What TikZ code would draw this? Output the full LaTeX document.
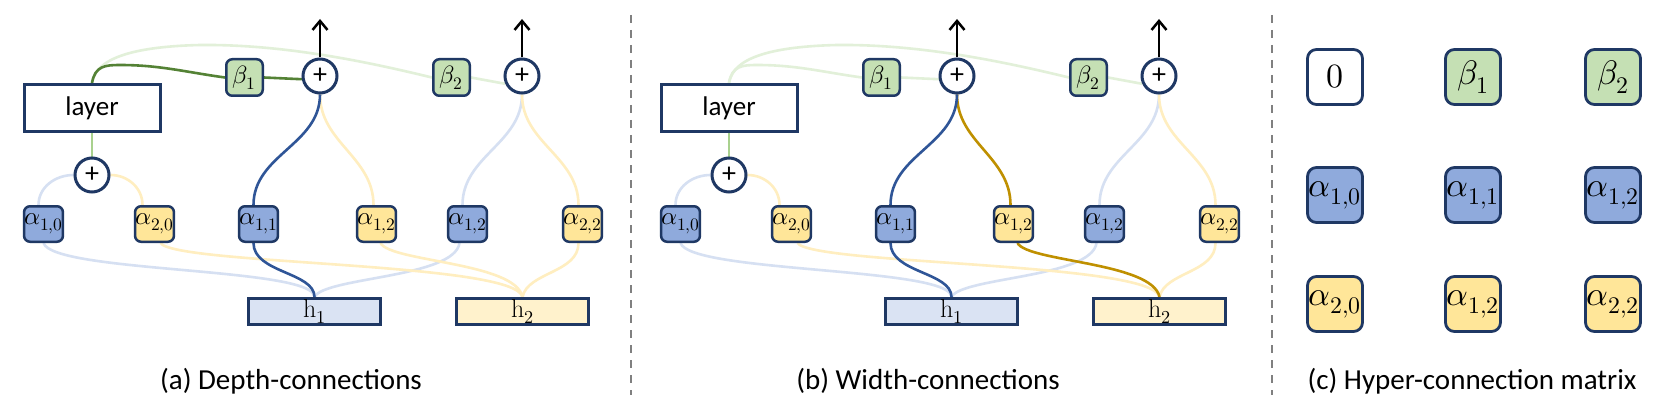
\documentclass[tikz,border=0pt]{standalone}
\usepackage{unicode-math}
\newfontfamily\calfont{Carlito}
\usetikzlibrary{arrows.meta,backgrounds}
\definecolor{navy}{RGB}{31,56,100}
\definecolor{ablue}{RGB}{143,170,220}
\definecolor{ayel}{RGB}{255,230,153}
\definecolor{bgreen}{RGB}{197,224,180}
\definecolor{hblue}{RGB}{218,227,243}
\definecolor{hyel}{RGB}{255,242,204}
\definecolor{dkblue}{RGB}{47,85,151}
\definecolor{ltblue}{RGB}{214,224,242}
\definecolor{ltyel}{RGB}{255,238,192}
\definecolor{gold}{RGB}{191,144,0}
\definecolor{dkgreen}{RGB}{84,130,53}
\definecolor{ltgreen}{RGB}{226,240,217}
\definecolor{midgreen}{RGB}{169,209,142}
\definecolor{sepgray}{RGB}{128,128,128}
\tikzset{
  conn/.style={line width=2.6pt},
  outarrow/.style={draw=black, line width=2.5pt, -{Straight Barb[length=9pt,width=15pt]}},
  layerbox/.style={draw=navy, line width=3pt, fill=white, minimum width=136pt, minimum height=47pt, inner sep=0pt, font=\calfont\fontsize{27}{27}\selectfont},
  plusnode/.style={circle, draw=navy, line width=3pt, fill=white, minimum size=34pt, inner sep=0pt, font=\calfont\fontsize{28}{28}\selectfont},
  bbox/.style={draw=navy, line width=2.5pt, rounded corners=6pt, fill=bgreen, minimum width=36.5pt, minimum height=36.5pt, inner sep=0pt, font=\fontsize{25}{25}\selectfont},
  abox/.style={draw=navy, line width=2.5pt, rounded corners=6pt, minimum width=36.5pt, minimum height=35.5pt, inner sep=0pt, font=\fontsize{25}{25}\selectfont},
  hbox/.style={draw=navy, line width=3pt, minimum width=132pt, minimum height=26pt, inner sep=0pt, font=\fontsize{26}{26}\selectfont},
  cbox/.style={draw=navy, line width=2.8pt, rounded corners=9pt, minimum size=55pt, inner sep=0pt, font=\fontsize{34}{34}\selectfont},
  captext/.style={inner sep=0pt, font=\calfont\fontsize{29}{29}\selectfont},
  sepline/.style={draw=sepgray, line width=2pt, dash pattern=on 8pt off 7pt}
}
\newcommand\hcpanel[5]{%
\begin{scope}[xshift=#2]
\node[layerbox] (#1L) at (92,-108) {layer};
\node[plusnode] (#1s) at (92,-175) {+};
\node[bbox] (#1b1) at (244.5,-77.5) {$\beta_1$};
\node[plusnode] (#1c1) at (320,-76) {+};
\node[bbox] (#1b2) at (451.5,-77.5) {$\beta_2$};
\node[plusnode] (#1c2) at (522,-76) {+};
\node[abox,fill=ablue] (#1a10) at (43.5,-224) {$\alpha_{1,0}$};
\node[abox,fill=ayel] (#1a20) at (154.5,-224) {$\alpha_{2,0}$};
\node[abox,fill=ablue] (#1a11) at (258.5,-224) {$\alpha_{1,1}$};
\node[abox,fill=ayel] (#1a12y) at (376.5,-224) {$\alpha_{1,2}$};
\node[abox,fill=ablue] (#1a12b) at (467.5,-224) {$\alpha_{1,2}$};
\node[abox,fill=ayel] (#1a22) at (582.5,-224) {$\alpha_{2,2}$};
\node[hbox,fill=hblue] (#1h1) at (314.5,-311.5) {$\mathrm{h}_1$};
\node[hbox,fill=hyel] (#1h2) at (522.5,-311.5) {$\mathrm{h}_2$};
\coordinate (#1o1) at (320,-19);
\coordinate (#1o2) at (522,-19);
\draw[outarrow] (#1c1.north) -- (#1o1);
\draw[outarrow] (#1c2.north) -- (#1o2);
\begin{pgfonlayer}{background}
 \draw[conn,ltgreen] (#1L.north) .. controls (95,-65) and (115,-47) .. (200,-45) .. controls (290,-44) and (380,-65) .. (#1b2.west);
 \draw[conn,ltgreen] (#1b2.east) -- (#1c2.205);
 \draw[conn,midgreen] (#1L.south) -- (#1s.north);
 \draw[conn,ltblue] (#1s.west) to[out=180,in=90] ([xshift=-5pt]#1a10.north);
 \draw[conn,ltyel] (#1s.east) to[out=0,in=90] ([xshift=-12pt]#1a20.north);
 \draw[conn,ltblue] (#1c2.south) to[out=-90,in=90] ([xshift=-5pt]#1a12b.north);
 \draw[conn,ltyel] (#1c2.south) to[out=-90,in=90] ([xshift=-4pt]#1a22.north);
 \draw[conn,ltblue] (#1a10.south) .. controls +(10,-30) and +(0,30) .. (#1h1.north);
 \draw[conn,ltblue] ([xshift=-8pt]#1a12b.south) .. controls +(-5,-35) and +(10,20) .. (#1h1.north);
 \draw[conn,ltyel] ([xshift=6pt]#1a20.south) .. controls +(15,-22) and +(-7,35) .. (#1h2.north);
 \draw[conn,ltyel] ([xshift=-4pt]#1a22.south) .. controls +(0,-30) and +(5,25) .. (#1h2.north);
 \draw[conn,#3] (#1L.north) .. controls (95,-66) and (105,-65) .. (120,-65) .. controls (160,-65) and (185,-72) .. (#1b1.west);
 \draw[conn,#3] (#1b1.east) -- (#1c1.190);
 \draw[conn,#5] (#1c1.south) to[out=-90,in=90] ([xshift=-3pt]#1a12y.north);
 \draw[conn,#5] ([xshift=4pt]#1a12y.south) .. controls +(10,-19) and +(-7,35) .. (#1h2.north);
 \draw[conn,#4] (#1c1.south) to[out=-90,in=90] ([xshift=-5pt]#1a11.north);
 \draw[conn,#4] ([xshift=-5pt]#1a11.south) .. controls +(0,-30) and +(0,25) .. (#1h1.north);
\end{pgfonlayer}
\end{scope}}
\begin{document}
\begin{tikzpicture}[x=1pt,y=1pt]
\begin{pgfonlayer}{background}
\fill[white] (0,0) rectangle (1656,-409);
\end{pgfonlayer}
\path[use as bounding box] (0,0) rectangle (1656,-409);
\hcpanel{a}{0pt}{dkgreen}{dkblue}{ltyel}
\hcpanel{b}{637pt}{ltgreen}{dkblue}{gold}
% separators
\draw[sepline] (631,-15) -- (631,-395);
\draw[sepline] (1272,-15) -- (1272,-395);
% panel c
\node[cbox,fill=white] (m00) at (1335,-77) {$0$};
\node[cbox,fill=bgreen] (m01) at (1473,-77) {$\beta_1$};
\node[cbox,fill=bgreen] (m02) at (1613,-77) {$\beta_2$};
\node[cbox,fill=ablue] (m10) at (1335,-195) {$\alpha_{1,0}$};
\node[cbox,fill=ablue] (m11) at (1473,-195) {$\alpha_{1,1}$};
\node[cbox,fill=ablue] (m12) at (1613,-195) {$\alpha_{1,2}$};
\node[cbox,fill=ayel] (m20) at (1335,-304) {$\alpha_{2,0}$};
\node[cbox,fill=ayel] (m21) at (1473,-304) {$\alpha_{1,2}$};
\node[cbox,fill=ayel] (m22) at (1613,-304) {$\alpha_{2,2}$};
% captions
\node[captext] (capa) at (291,-381) {(a) Depth-connections};
\node[captext] (capb) at (928,-381) {(b) Width-connections};
\node[captext] (capc) at (1472,-381) {(c) Hyper-connection matrix};
\end{tikzpicture}
\end{document}
